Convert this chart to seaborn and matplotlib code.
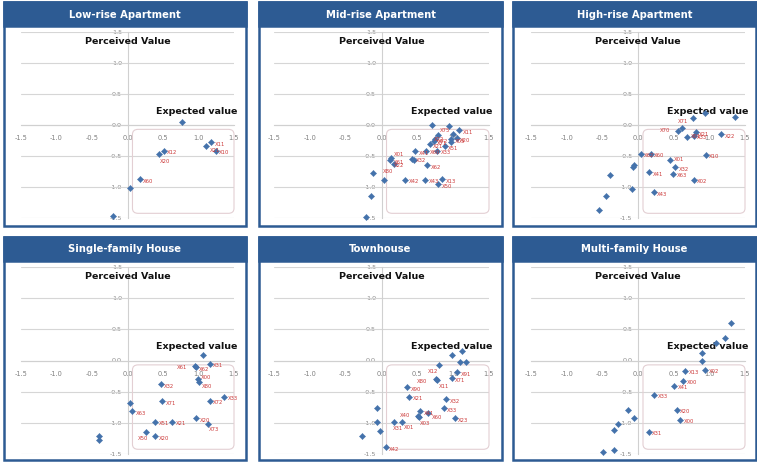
import numpy as np
import pandas as pd
import matplotlib.pyplot as plt
import seaborn as sns
from matplotlib.patches import Rectangle, FancyBboxPatch
from matplotlib.ticker import FormatStrFormatter

# x = expected value, y = perceived value, lab = item code ('' = no label)
titles = ['Low-rise Apartment', 'Mid-rise Apartment', 'High-rise Apartment',
          'Single-family House', 'Townhouse', 'Multi-family House']

low_x = [0.77, 1.18, 1.11, 1.24, 0.51, 0.44, 0.17, 0.04, -0.21]
low_y = [0.05, -0.28, -0.34, -0.41, -0.41, -0.47, -0.87, -1.01, -1.47]
low_lab = ['', 'X11', 'X21', 'X10', 'X12', 'X20', 'X60', '', '']

mid_x = [0.70, 0.94, 1.08, 1.00, 1.05, 0.79, 0.74, 0.97, 0.73, 0.67, 0.97, 0.88,
         0.78, 0.62, 0.47, 0.43, 0.45, 0.64, 0.13, 0.12, 0.18, -0.12, 0.03, 0.33,
         0.61, 0.85, 0.79, -0.15, -0.21]
mid_y = [0.0, -0.02, -0.08, -0.15, -0.21, -0.16, -0.23, -0.23, -0.26, -0.31, -0.28, -0.34,
         -0.41, -0.41, -0.42, -0.54, -0.56, -0.65, -0.53, -0.57, -0.63, -0.77, -0.88, -0.88,
         -0.88, -0.87, -0.95, -1.14, -1.48]
mid_lab = ['', '', 'X11', 'X22', 'X20', 'X75', 'X72', 'X03', 'X71', 'X21', '', 'X51',
           'X33', 'X60', 'X41', 'X32', 'X22', 'X62', 'X01', 'X61', 'X80', '', '', 'X42',
           'X43', 'X13', 'X50', '', '']

high_x = [0.77, 0.94, 1.36, 0.61, 0.56, 0.81, 0.78, 0.69, 1.17, 0.95, 0.04, 0.18,
          0.45, 0.52, 0.49, 0.16, 0.78, -0.07, -0.05, -0.39, -0.09, -0.45, 0.22, -0.55]
high_y = [0.11, 0.20, 0.13, -0.05, -0.09, -0.12, -0.17, -0.19, -0.15, -0.48, -0.46, -0.46,
          -0.56, -0.68, -0.78, -0.76, -0.88, -0.67, -0.65, -0.80, -1.03, -1.14, -1.08, -1.36]
high_lab = ['', '', '', 'X71', 'X70', 'X21', 'X33', 'X01', 'X22', 'X10', 'X62', 'X60',
            'X01', 'X32', 'X63', 'X41', 'X02', '', '', '', '', '', 'X43', '']

single_x = [1.06, 1.16, 0.95, 0.96, 0.99, 1.00, 0.47, 1.36, 1.16, 0.49, 0.03, 0.07,
            0.39, 0.63, 0.97, 1.13, 0.26, 0.39, -0.40, -0.40]
single_y = [0.08, -0.05, -0.09, -0.11, -0.30, -0.34, -0.38, -0.58, -0.64, -0.65, -0.68, -0.81,
            -0.98, -0.98, -0.92, -1.01, -1.14, -1.21, -1.21, -1.27]
single_lab = ['', 'X31', 'X61', 'X62', 'X00', 'X80', 'X32', 'X33', 'X72', 'X71', '', 'X63',
              'X51', 'X21', 'X20', 'X73', 'X50', 'X20', '', '']

town_x = [1.13, 0.98, 1.09, 1.18, 0.80, 1.06, 0.98, 0.76, 0.78, 0.36, 0.39, 0.90,
          0.87, -0.06, 0.54, 0.65, 0.51, 0.53, 1.02, -0.06, 0.18, 0.29, -0.02, -0.27, 0.06]
town_y = [0.15, 0.08, -0.03, -0.03, -0.07, -0.19, -0.28, -0.29, -0.31, -0.43, -0.58, -0.62,
          -0.76, -0.76, -0.81, -0.84, -0.88, -0.90, -0.92, -0.98, -0.98, -0.98, -1.13, -1.21, -1.39]
town_lab = ['', '', '', '', 'X12', 'X91', 'X71', 'X80', 'X11', 'X90', 'X21', 'X32',
            'X33', '', 'X41', 'X60', 'X40', 'X03', 'X23', '', 'X31', 'X01', '', '', 'X42']

multi_x = [1.30, 1.22, 1.10, 0.90, 0.90, 0.94, 0.66, 0.63, 0.51, 0.23, 0.54, 0.59,
           -0.14, -0.05, -0.28, -0.33, 0.15, -0.49, -0.33]
multi_y = [0.60, 0.36, 0.28, 0.12, 0.0, -0.15, -0.16, -0.32, -0.40, -0.55, -0.79, -0.95,
           -0.79, -0.92, -1.02, -1.11, -1.14, -1.47, -1.43]
multi_lab = ['', '', '', '', '', 'X02', 'X13', 'X00', 'X41', 'X33', 'X20', 'X00',
             '', '', '', '', 'X31', '', '']

panels = [(low_x, low_y, low_lab), (mid_x, mid_y, mid_lab), (high_x, high_y, high_lab),
          (single_x, single_y, single_lab), (town_x, town_y, town_lab),
          (multi_x, multi_y, multi_lab)]

ticks = [-1.5, -1.0, -0.5, 0.0, 0.5, 1.0, 1.5]

# label offsets (points) that differ from the default right-side placement
label_offsets = {
    (0, 'X20'): (1, -5), (0, 'X21'): (2.5, -3),
    (1, 'X75'): (1, 3.5), (1, 'X22'): (-14, -4), (1, 'X80'): (-8, -5),
    (1, 'X01'): (2, 2.5),
    (2, 'X70'): (-13, 0), (2, 'X71'): (-3, 5), (2, 'X01'): (2.5, 0),
    (3, 'X61'): (-13, -1), (3, 'X00'): (2.5, 1.5), (3, 'X80'): (2.5, -3.5),
    (3, 'X50'): (-6, -5), (3, 'X73'): (1, -4),
    (4, 'X12'): (-8, -5), (4, 'X80'): (-14, -2), (4, 'X11'): (1, -5),
    (4, 'X40'): (-13, 0), (4, 'X03'): (0, -5), (4, 'X31'): (-1, -5),
    (4, 'X01'): (1, -4), (4, 'X60'): (3, -3),
}

W, H = 757, 462
navy = '#2d5b93'
point_col = '#4472ab'
label_col = '#cc3a3a'

sns.set_style('white')
plt.rcParams['font.family'] = ['DejaVu Sans']
fig = plt.figure(figsize=(W / 100, H / 100), dpi=100)

# panel frames in pixels
col_l = [4, 259, 513]
col_r = [246, 502, 756]
row_t = [2, 237]
row_b = [226, 460]
# plot area (-1.5..1.5) in pixels
ax_l = [21, 274, 531]
ax_r = [234, 489, 745]
ax_t = [31.7, 266.7]
ax_b = [218.3, 454.3]

for i, (xs, ys, labs) in enumerate(panels):
    r, c = divmod(i, 3)
    # frame + header
    fig.add_artist(Rectangle((col_l[c] / W, 1 - row_b[r] / H),
                             (col_r[c] - col_l[c]) / W, (row_b[r] - row_t[r]) / H,
                             transform=fig.transFigure, facecolor='white',
                             edgecolor=navy, lw=1.8, zorder=0))
    fig.add_artist(Rectangle((col_l[c] / W, 1 - (row_t[r] + 24) / H),
                             (col_r[c] - col_l[c]) / W, 24 / H,
                             transform=fig.transFigure, facecolor=navy,
                             edgecolor=navy, lw=1.8, zorder=0))
    fig.text((col_l[c] + col_r[c]) / 2 / W, 1 - (row_t[r] + 12.5) / H, titles[i],
             color='white', fontsize=7.2, fontweight='bold', ha='center', va='center')

    ax = fig.add_axes([ax_l[c] / W, 1 - ax_b[r] / H,
                       (ax_r[c] - ax_l[c]) / W, (ax_b[r] - ax_t[r]) / H])
    ax.patch.set_alpha(0)
    df = pd.DataFrame({'x': xs, 'y': ys, 'lab': labs})

    ax.set_xlim(-1.5, 1.5)
    ax.set_ylim(-1.5, 1.5)
    for yv in ticks:
        ax.axhline(yv, color='#d6d6d6', lw=0.8, zorder=1)
    for s in ['top', 'right']:
        ax.spines[s].set_visible(False)
    ax.spines['left'].set_position('zero')
    ax.spines['bottom'].set_position('zero')
    for s in ['left', 'bottom']:
        ax.spines[s].set_color('#d0d0d0')
        ax.spines[s].set_linewidth(0.8)
    ax.set_xticks(ticks)
    ax.set_yticks(ticks)
    ax.xaxis.set_major_formatter(FormatStrFormatter('%.1f'))
    ax.yaxis.set_major_formatter(FormatStrFormatter('%.1f'))
    ax.tick_params(axis='x', length=2, width=0.5, color='#c4c4c4', pad=5.5,
                   labelsize=4.8, labelcolor='#808080')
    ax.tick_params(axis='y', length=0, pad=4, labelsize=4.6, labelcolor='#8a8a8a')

    ax.add_patch(FancyBboxPatch((0.1, -1.39), 1.37, 1.29,
                                boxstyle='round,pad=0.03,rounding_size=0.08',
                                facecolor='none', edgecolor='#e3cfd3', lw=0.8,
                                zorder=1, clip_on=False))

    sns.scatterplot(data=df, x='x', y='y', ax=ax, marker='D', s=10,
                    color=point_col, edgecolor=point_col, linewidth=0.3,
                    zorder=4, clip_on=False, legend=False)
    for _, row in df[df['lab'] != ''].iterrows():
        off = label_offsets.get((i, row['lab']), (2.5, -1.5))
        ax.annotate(row['lab'], (row['x'], row['y']), xytext=off,
                    textcoords='offset points', ha='left', va='center',
                    fontsize=3.8, color=label_col, zorder=5)

    ax.text(0.0, 1.35, 'Perceived Value', fontsize=6.8, fontweight='bold',
            ha='center', va='center', color='#111111')
    ax.text(1.55, 0.22, 'Expected value', fontsize=6.8, fontweight='bold',
            ha='right', va='center', color='#111111', zorder=3)
    ax.set_xlabel('')
    ax.set_ylabel('')

plt.savefig('out.png', dpi=100)
